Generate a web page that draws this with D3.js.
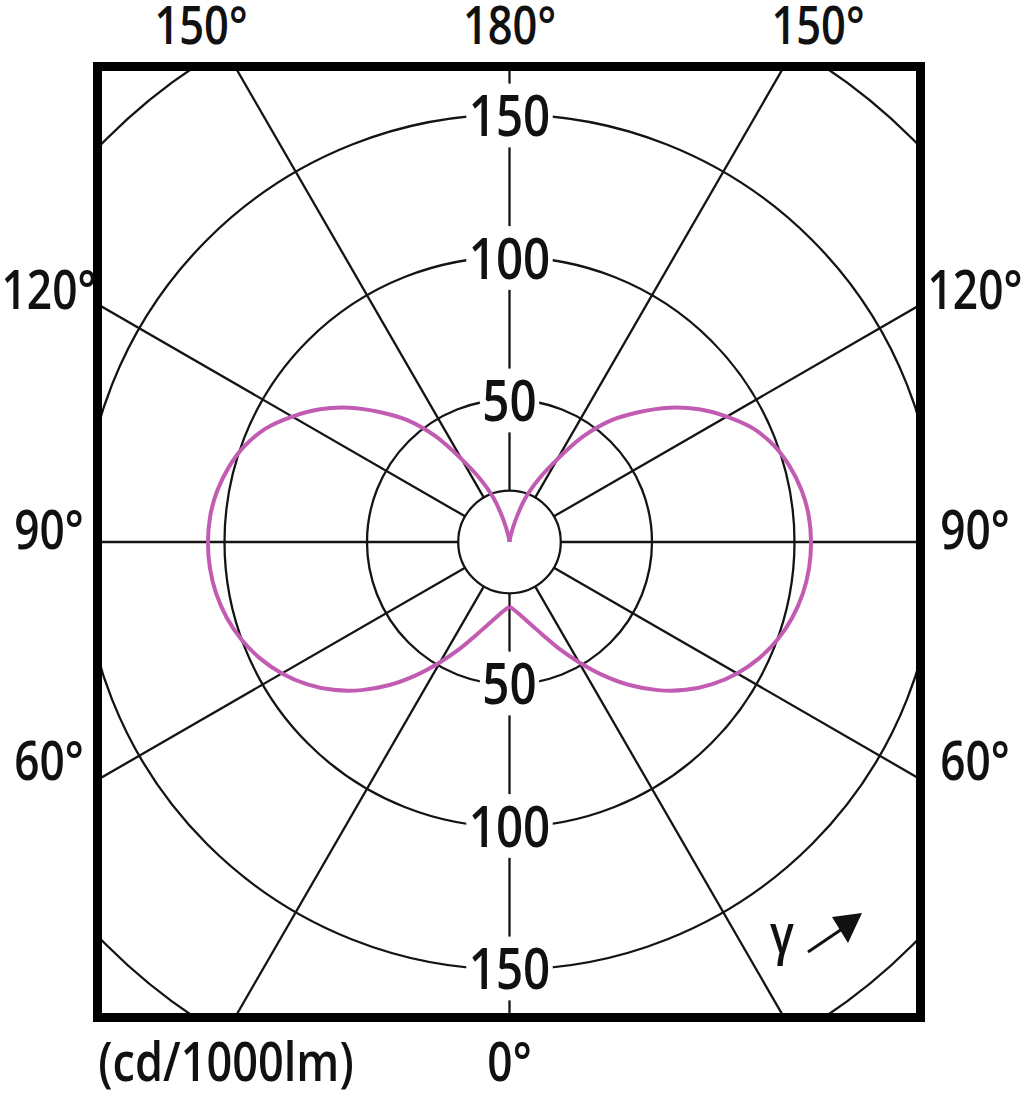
<!DOCTYPE html>
<html><head><meta charset="utf-8">
<script src="https://cdn.jsdelivr.net/npm/d3@7"></script>
<style>body{margin:0;background:#fff} svg{display:block}</style>
</head><body>
<svg id="c" width="1024" height="1094"></svg>
<script>
// ---- data ----
const gammaDeg  = [0,5,10,15,20,25,30,35,40,45,50,55,60,65,70,75,80,85,90,95,100,105,110,115,120,125,130,135,140,145,150,155,160,165,170,175,180];
const intensity = [22.7,24.3,26.8,30.2,35,41.4,48.7,57,65.5,73.5,80.7,86.9,92.2,96.6,100.1,102.7,104.5,105.5,105.8,105.4,104.1,101.9,98.8,94.3,88,81.2,73.3,64.5,55.8,45.3,33.5,24.5,16.5,7.5,2,0.4,0];
const ringValues = [50,100,150,200];
const hubValue = 18;
const spokeAngles = [0,30,60,90,120,150,180,210,240,270,300,330];
const ringLabels = [50,100,150];
const topAngleLabels = ["150°","180°","150°"];
const sideAngleLabels = ["120°","90°","60°"];
const bottomAngleLabel = "0°";
const unitLabel = "(cd/1000lm)";
const gammaLabel = "γ";

// ---- layout ----
const cx = 509.5, cy = 542;
const box = {x0: 97.5, x1: 920.5, y0: 66.5, y1: 1017.5};
const SX = 0.82;
const FONT = "'Open Sans', 'Noto Sans', sans-serif";
const curveColor = "#c25cb2";
const gridColor = "#141414";

const svg = d3.select("#c");
const r = d3.scaleLinear().domain([0, 200]).range([0, 570]);
const rad = d => d * Math.PI / 180;

svg.append("defs").append("clipPath").attr("id","clip")
  .append("rect").attr("x",box.x0).attr("y",box.y0)
  .attr("width",box.x1-box.x0).attr("height",box.y1-box.y0);

const grid = svg.append("g").attr("clip-path","url(#clip)")
  .append("g").attr("transform",`translate(${cx},${cy})`);

grid.selectAll("circle.ring").data(ringValues).join("circle")
  .attr("class","ring").attr("r", d => r(d))
  .attr("fill","none").attr("stroke",gridColor).attr("stroke-width",2.3);

grid.append("circle").attr("r", r(hubValue))
  .attr("fill","none").attr("stroke",gridColor).attr("stroke-width",2.3);

grid.selectAll("line.spoke").data(spokeAngles).join("line")
  .attr("class","spoke")
  .attr("x1", d => r(hubValue) * Math.sin(rad(d)))
  .attr("y1", d => r(hubValue) * Math.cos(rad(d)))
  .attr("x2", d => r(400) * Math.sin(rad(d)))
  .attr("y2", d => r(400) * Math.cos(rad(d)))
  .attr("stroke",gridColor).attr("stroke-width",2.3);

// curve
const pts = gammaDeg.map((g,i) => [g, intensity[i]]);
const curveG = svg.append("g").attr("transform",`translate(${cx},${cy})`);
const lineRight = d3.lineRadial()
  .angle(d => Math.PI - rad(d[0])).radius(d => r(d[1]))
  .curve(d3.curveCatmullRom.alpha(0.5));
const lineLeft = d3.lineRadial()
  .angle(d => Math.PI + rad(d[0])).radius(d => r(d[1]))
  .curve(d3.curveCatmullRom.alpha(0.5));
[lineRight, lineLeft].forEach(l => {
  curveG.append("path").attr("d", l(pts))
    .attr("fill","none").attr("stroke",curveColor)
    .attr("stroke-width",4).attr("stroke-linejoin","miter");
});

// text helper
function label(text, x, y, fs, anchor, opts = {}) {
  const g = svg.append("g").attr("transform",`translate(${x},${y}) scale(${SX},1)`);
  const t = g.append("text").text(text)
    .attr("text-anchor", anchor)
    .attr("font-family", FONT).attr("font-weight", 600)
    .attr("font-size", fs).attr("fill","#111")
    .attr("y", opts.center ? 0.357 * fs : 0);
  if (opts.knockout) {
    const b = t.node().getBBox();
    g.insert("rect","text")
      .attr("x", b.x - 3).attr("width", b.width + 6)
      .attr("y", -0.55 * fs).attr("height", 1.1 * fs)
      .attr("fill","#fff");
  }
  return g;
}

// ring labels on the vertical axis (up and down)
ringLabels.forEach(v => {
  label(String(v), cx, cy - r(v) + 1, 58, "middle", {center:true, knockout:true});
  label(String(v), cx, cy + r(v) - 1, 58, "middle", {center:true, knockout:true});
});

// angle labels
const topX = [cx - 308.5, cx, cx + 308.5];
topAngleLabels.forEach((t,i) => label(t, topX[i], 44, 53, "middle"));
const sideY = [309, 549, 780];
sideAngleLabels.forEach((t,i) => {
  label(t, 49, sideY[i], 54, "middle");
  label(t, 975, sideY[i], 54, "middle");
});
label(bottomAngleLabel, cx, 1081, 54, "middle");
label(unitLabel, 226, 1081, 55, "middle");

// gamma + arrow
label(gammaLabel, 782, 953, 54, "middle");
svg.append("line").attr("x1",808).attr("y1",952).attr("x2",842).attr("y2",929)
  .attr("stroke","#111").attr("stroke-width",3);
svg.append("polygon").attr("points","862,913 832,917 848,943").attr("fill","#111");

// frame
svg.append("rect").attr("x",box.x0).attr("y",box.y0)
  .attr("width",box.x1-box.x0).attr("height",box.y1-box.y0)
  .attr("fill","none").attr("stroke","#000").attr("stroke-width",9);
</script>
</body></html>
